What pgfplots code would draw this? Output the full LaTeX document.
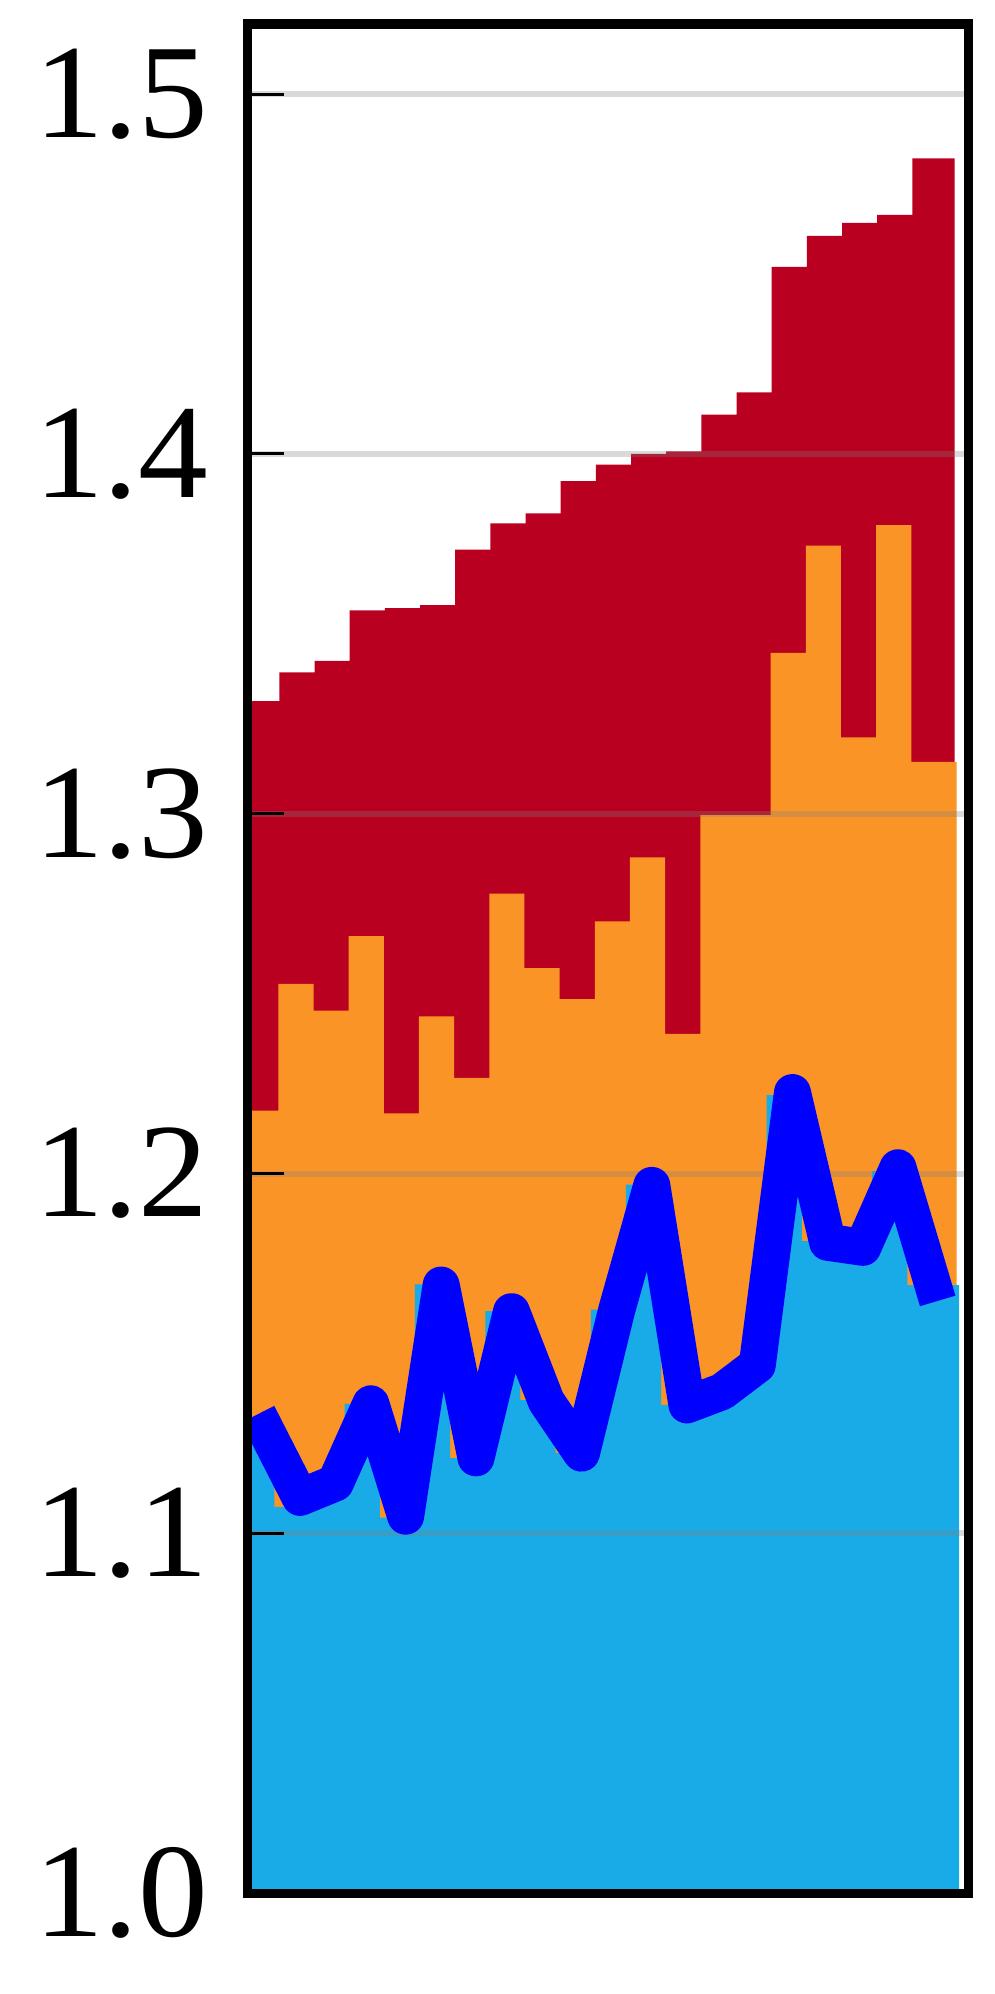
\documentclass[border=0pt]{standalone}
\usepackage{fontspec}
\setmainfont{Liberation Serif}
\usepackage{graphicx}
\usepackage{pgfplots}
\pgfplotsset{compat=1.18}

\definecolor{barred}{RGB}{186,0,32}
\definecolor{barorange}{RGB}{250,148,38}
\definecolor{barcyan}{RGB}{24,171,231}
\definecolor{linblue}{RGB}{0,0,255}

\begin{document}
\begin{tikzpicture}
\begin{axis}[
    scale only axis,
    width=180.3pt, height=467.4pt,
    xmin=-0.408, xmax=20.098,
    ymin=1.0, ymax=1.5195,
    axis on top,
    axis line style={line width=2.33pt},
    xtick=\empty,
    ytick={1.0,1.1,1.2,1.3,1.4,1.5},
    ytick pos=left,
    tick align=inside,
    major tick length=9.1pt,
    tick style={black, line width=0.75pt},
    /pgf/number format/assume math mode=true,
    yticklabel={\scalebox{1.04}[1]{\pgfmathprintnumber[fixed,fixed zerofill,precision=1]{\tick}}},
    yticklabel style={anchor=east, inner sep=0pt, xshift=-9.6pt,
        font=\fontsize{33.5}{40}\selectfont},
]
% top layer (red)
\addplot[const plot, fill=barred, draw=none] coordinates {
    (-0.5,1.3313) (0.5,1.3393) (1.5,1.3425) (2.5,1.3565) (3.5,1.3571)
    (4.5,1.3580) (5.5,1.3734) (6.5,1.3807) (7.5,1.3835) (8.5,1.3924)
    (9.5,1.3970) (10.5,1.4000) (11.5,1.4007) (12.5,1.4109) (13.5,1.4171)
    (14.5,1.4520) (15.5,1.4606) (16.5,1.4642) (17.5,1.4664) (18.5,1.4821)
    (19.70,1.4821)
} \closedcycle;
% middle layer (orange)
\addplot[const plot, fill=barorange, draw=none] coordinates {
    (-0.53,1.2175) (0.47,1.2527) (1.47,1.2453) (2.47,1.2660) (3.47,1.2167)
    (4.47,1.2437) (5.47,1.2266) (6.47,1.2778) (7.47,1.2571) (8.47,1.2485)
    (9.47,1.2701) (10.47,1.2879) (11.47,1.2388) (12.47,1.2996) (13.47,1.2996)
    (14.47,1.3447) (15.47,1.3745) (16.47,1.3212) (17.47,1.3802) (18.47,1.3144)
    (19.76,1.3144)
} \closedcycle;
% bottom layer (cyan)
\addplot[const plot, fill=barcyan, draw=none] coordinates {
    (-0.645,1.1310) (0.355,1.1074) (1.355,1.1140) (2.355,1.1360) (3.355,1.1044)
    (4.355,1.1692) (5.355,1.1209) (6.355,1.1618) (7.355,1.1370) (8.355,1.1223)
    (9.355,1.1622) (10.355,1.1969) (11.355,1.1357) (12.355,1.1394) (13.355,1.1468)
    (14.355,1.2218) (15.355,1.1812) (16.355,1.1800) (17.355,1.2007) (18.355,1.1690)
    (19.83,1.1690)
} \closedcycle;

% grid lines over the areas, under the line
\pgfplotsinvokeforeach{1.1,1.2,1.3,1.4,1.5}{
    \draw[black!50, opacity=0.3, line width=1.5pt]
        (axis cs:-0.408,#1) -- (axis cs:20.098,#1);
}

\addplot[linblue, line width=9.25pt, line join=round, line cap=butt] coordinates {
    (-0.115,1.1331) (1.09,1.1100) (2.09,1.1140) (3.10,1.1360) (4.09,1.1048)
    (5.10,1.1690) (6.09,1.1210) (7.10,1.1616) (8.09,1.1367) (9.09,1.1223)
    (10.09,1.1620) (11.09,1.1967) (12.09,1.1357) (13.09,1.1394) (14.09,1.1468)
    (15.09,1.2225) (16.09,1.1809) (17.09,1.1795) (18.09,1.2016) (19.22,1.1646)
};

\coordinate (sw) at (rel axis cs:0,0);
\coordinate (ne) at (rel axis cs:1,1);
\end{axis}
\pgfresetboundingbox
\path[use as bounding box] ([xshift=-61.875pt,yshift=-25.2pt]sw)
    rectangle ([xshift=6.575pt,yshift=5.975pt]ne);
\end{tikzpicture}
\end{document}
